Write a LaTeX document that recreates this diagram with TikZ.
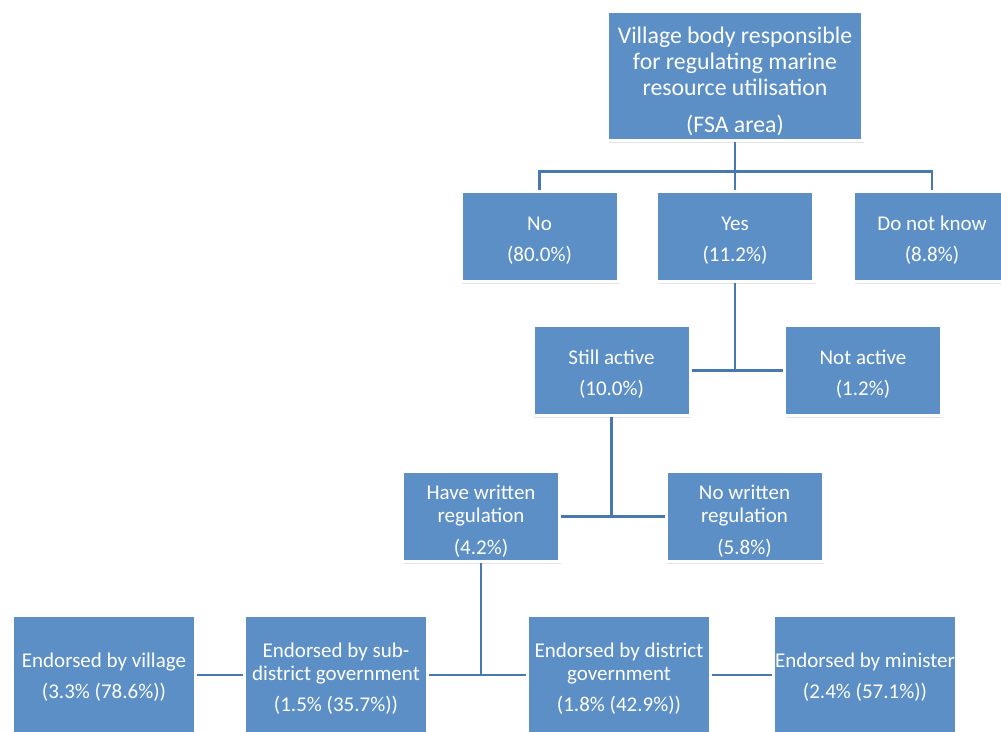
\documentclass[tikz,border=0pt]{standalone}
\usepackage{fontspec}
\setmainfont{Carlito}
\usetikzlibrary{shadows}
\definecolor{boxblue}{RGB}{91,143,198}
\definecolor{lineblue}{RGB}{72,120,178}
\newcommand\mystrut[1]{\rule{0pt}{#1}}
\begin{document}
\begin{tikzpicture}[x=1pt,y=-1pt,
  box/.style={rectangle, fill=boxblue, draw=white, line width=3pt, text=white,
    align=center, inner sep=0pt,
    drop shadow={shadow xshift=1pt, shadow yshift=-2pt, opacity=0.22}},
  small/.style={box, minimum width=157pt, minimum height=90pt},
  big/.style={box, minimum width=183pt, minimum height=119pt},
  midfont/.style={font=\fontsize{21}{23}\selectfont},
  conn/.style={draw=lineblue, line width=2.6pt}]
\useasboundingbox (0,0) rectangle (1001,731);
\fill[white] (0,0) rectangle (1001,731);

\node[box, minimum width=255pt, minimum height=129pt, font=\fontsize{23.8}{26}\selectfont] (top) at (735,76)
  {\mystrut{28pt}Village body responsible\\for regulating marine\\resource utilisation\\[11pt](FSA area)};

\node[small, midfont] (no) at (539.5,236.5) {\mystrut{21pt}No\\[8pt](80.0\%)};
\node[small, midfont] (yes) at (735,236.5) {\mystrut{21pt}Yes\\[8pt](11.2\%)};
\node[small, midfont] (dnk) at (932,236.5) {\mystrut{21pt}Do not know\\[8pt](8.8\%)};

\node[small, midfont] (still) at (611.5,370.5) {\mystrut{22pt}Still active\\[8pt](10.0\%)};
\node[small, midfont] (notact) at (863,370.5) {\mystrut{22pt}Not active\\[8pt](1.2\%)};

\node[small, midfont] (have) at (481,516.5) {\mystrut{23pt}Have written\\regulation\\[9pt](4.2\%)};
\node[small, midfont] (nowr) at (744.5,516.5) {\mystrut{23pt}No written\\regulation\\[9pt](5.8\%)};

\node[big, midfont] (vill) at (104,675) {\mystrut{18pt}Endorsed by village\\[8pt](3.3\% (78.6\%))};
\node[big, midfont] (sub) at (336,675) {\mystrut{21pt}Endorsed by sub-\\district government\\[8pt](1.5\% (35.7\%))};
\node[big, midfont] (dist) at (619,675) {\mystrut{21pt}Endorsed by district\\government\\[8pt](1.8\% (42.9\%))};
\node[big, midfont] (mini) at (865,675) {\mystrut{18pt}Endorsed by minister\\[8pt](2.4\% (57.1\%))};

\coordinate (j1) at (735,171.5);
\draw[conn] (top.south) -- (yes.north);
\draw[conn] (no.north) |- (j1) -| (dnk.north);

\coordinate (j2) at (yes.south |- still.east);
\draw[conn] (yes.south) -- (j2);
\draw[conn] (still.east) -- (notact.west);

\coordinate (j3) at (still.south |- have.east);
\draw[conn] (still.south) -- (j3);
\draw[conn] (have.east) -- (nowr.west);

\coordinate (j4) at (have.south |- sub.east);
\draw[conn] (have.south) -- (j4);
\draw[conn] (sub.east) -- (dist.west);
\draw[conn] (vill.east) -- (sub.west);
\draw[conn] (dist.east) -- (mini.west);
\end{tikzpicture}
\end{document}
